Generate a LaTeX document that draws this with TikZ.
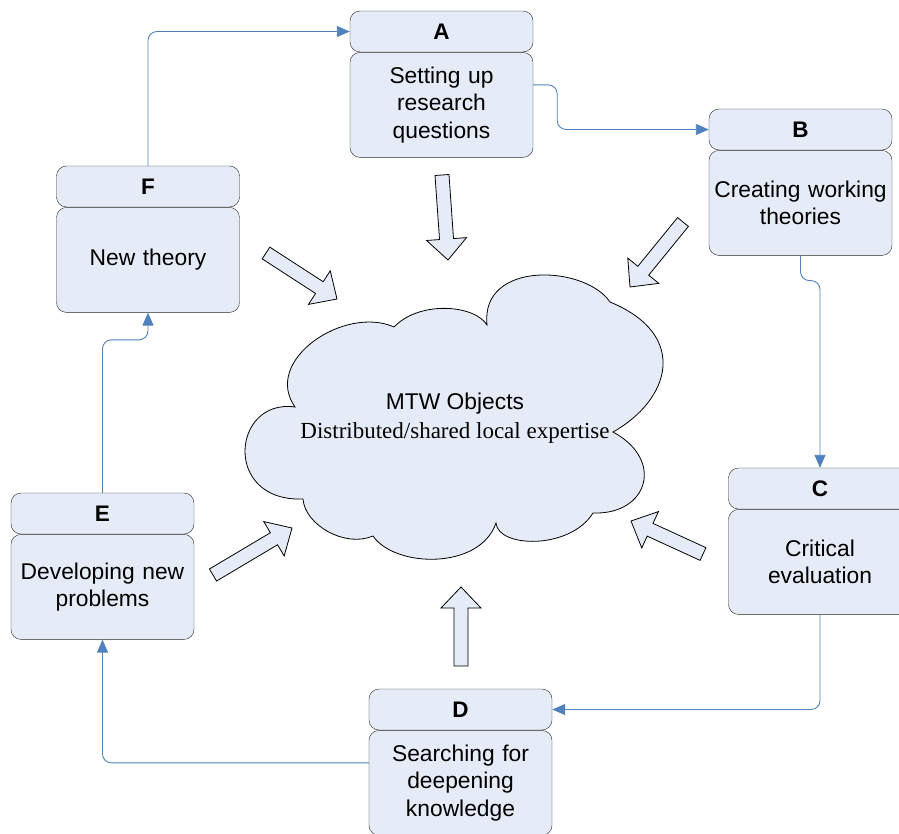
\documentclass[tikz,border=0pt]{standalone}
\usepackage{fontspec}
\setmainfont{Liberation Serif}
\setsansfont{Liberation Sans}
\usepackage{tikz}
\usetikzlibrary{positioning,calc,arrows.meta}
\definecolor{boxfill}{RGB}{230,236,247}
\definecolor{flowblue}{RGB}{79,129,189}
% hollow block arrow from #1 to #2
\newcommand{\fatarrow}[2]{%
    \coordinate (h) at ($(#2)!21pt!(#1)$);
    \draw[fatarr] ($(#1)!7pt!90:(#2)$) -- ($(h)!7pt!90:(#2)$) -- ($(h)!20pt!90:(#2)$) -- (#2)
        -- ($(h)!20pt!-90:(#2)$) -- ($(h)!7pt!-90:(#2)$) -- ($(#1)!7pt!-90:(#2)$) -- cycle;}

\begin{document}
\begin{tikzpicture}[
    x=1pt, y=-1pt,
    headbox/.style={rectangle, rounded corners=10pt, draw=black!85, fill=boxfill, minimum width=183pt, minimum height=41pt, inner sep=0pt, font=\sffamily\bfseries\fontsize{22.5}{26}\selectfont},
    bodybox/.style={rectangle, rounded corners=10pt, draw=black!85, fill=boxfill, minimum width=183pt, minimum height=105pt, inner sep=0pt, text width=180pt, align=center, font=\sffamily\fontsize{22.8}{27.5}\selectfont},
    flow/.style={draw=flowblue, line width=0.9pt, rounded corners=9pt, -{Triangle[length=13pt,width=11pt]}},
    fatarr/.style={draw=black, fill=boxfill, line width=0.8pt, line join=miter},
    cloudline/.style={draw=black, fill=boxfill, line width=0.8pt}
]
    \useasboundingbox (0,0) rectangle (899,833);
    \clip (0,0) rectangle (899,833);

    \draw[cloudline] (295,407) .. controls (232,398) and (222,502) .. (303,499)
        .. controls (305,525) and (345,548) .. (373,536)
        .. controls (395,568) and (480,570) .. (496,523)
        .. controls (498,548) and (570,550) .. (593,513)
        .. controls (648,515) and (665,460) .. (613,432)
        .. controls (670,400) and (690,335) .. (610,302)
        .. controls (585,265) and (480,260) .. (487,325)
        .. controls (475,305) and (420,300) .. (394,327)
        .. controls (345,305) and (262,360) .. (295,407) -- cycle;
    \node[font=\sffamily\fontsize{22.8}{26}\selectfont] (mtw) at (455,404) {MTW Objects};
    \node[font=\fontsize{23}{26}\selectfont] (expert) at (455,433) {Distributed/shared local expertise};

    \node[headbox] (ah) at (441.5,31.5) {A};
    \node[bodybox, below=0pt of ah] (ab) {Setting up\\research\\questions};
    \node[headbox] (bh) at (800.5,129.5) {B};
    \node[bodybox, below=0pt of bh] (bb) {Creating working\\theories};
    \node[headbox] (ch) at (820,488.5) {C};
    \node[bodybox, below=0pt of ch] (cb) {Critical\\evaluation};
    \node[headbox] (dh) at (460.5,709.5) {D};
    \node[bodybox, below=0pt of dh] (db) {Searching for\\deepening\\knowledge};
    \node[headbox] (eh) at (102.5,513.5) {E};
    \node[bodybox, below=0pt of eh] (eb) {Developing new\\problems};
    \node[headbox] (fh) at (148,186.5) {F};
    \node[bodybox, below=0pt of fh] (fb) {New theory};

    \draw[flow] (fh.north) |- (ah.west);
    \draw[flow] ([yshift=20pt]ab.east) -- ++(24,0) |- (bh.west);
    \draw[flow] (bb.south) -- ++(0,25) -| (ch.north);
    \draw[flow] (cb.south) |- (dh.east);
    \draw[flow] ([yshift=20pt]db.west) -| (eb.south);
    \draw[flow] (eh.north) -- ++(0,-153) -| (fb.south);

    \coordinate (ta) at (442,175); \coordinate (pa) at (448,260);
    \coordinate (tb) at (683,222); \coordinate (pb) at (630,287);
    \coordinate (tc) at (703,554); \coordinate (pc) at (631,521);
    \coordinate (td) at (461,666); \coordinate (pd) at (461,587);
    \coordinate (te) at (213,575); \coordinate (pe) at (292,528);
    \coordinate (tf) at (266,253); \coordinate (pf) at (337,299);
    \fatarrow{ta}{pa} \fatarrow{tb}{pb} \fatarrow{tc}{pc}
    \fatarrow{td}{pd} \fatarrow{te}{pe} \fatarrow{tf}{pf}
\end{tikzpicture}
\end{document}
